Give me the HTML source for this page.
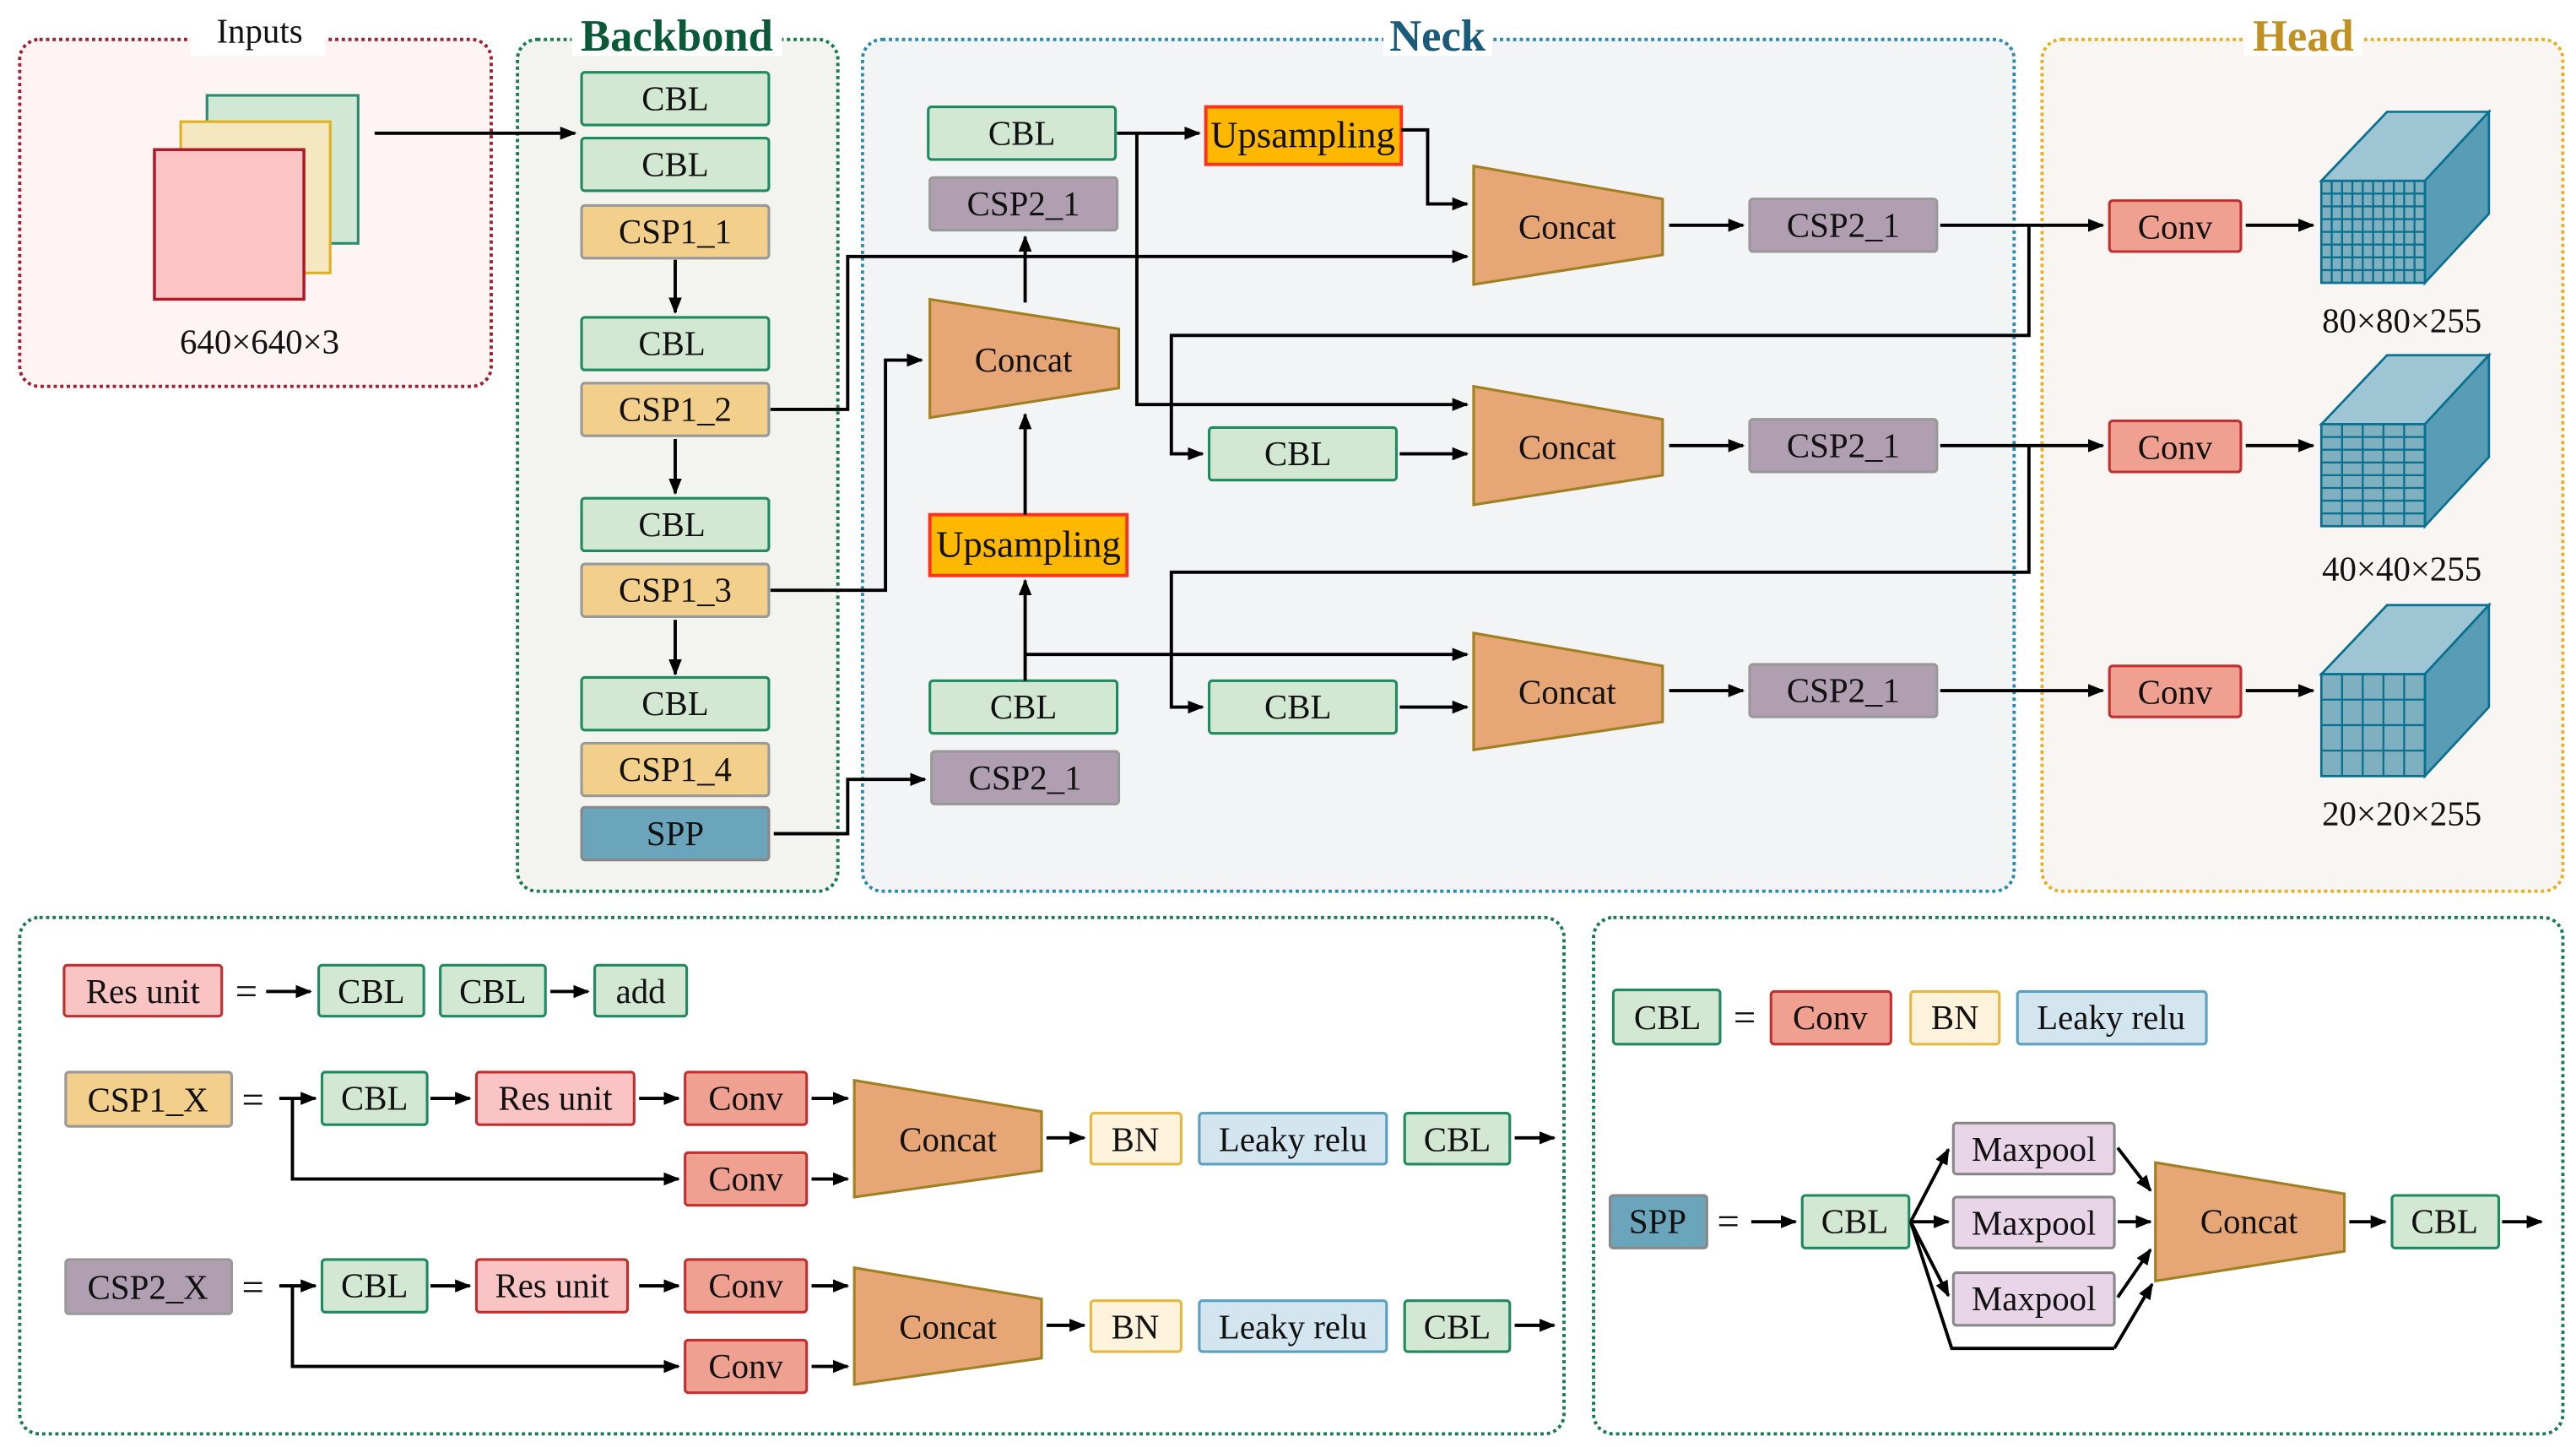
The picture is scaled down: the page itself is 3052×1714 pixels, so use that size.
<!DOCTYPE html>
<html><head><meta charset="utf-8"><style>
html,body{margin:0;padding:0;background:#fff}
svg{display:block;font-family:"Liberation Serif","Times New Roman",serif}
svg text{font-family:"Liberation Serif","Times New Roman",serif;font-size:21px;text-anchor:middle;dominant-baseline:central;fill:#111}
.l{stroke:#000;stroke-width:2;fill:none}
.a{stroke:#000;stroke-width:2;fill:none;marker-end:url(#ar)}
.cbl{fill:#d3e8d3;stroke:#1f8a5e;stroke-width:1.6}
.csp1{fill:#f2cf8a;stroke:#999;stroke-width:1.6}
.csp2{fill:#b09fb0;stroke:#999;stroke-width:1.6}
.spp{fill:#6aa5bb;stroke:#888;stroke-width:1.6}
.conv{fill:#f0a090;stroke:#c03030;stroke-width:1.6}
.up{fill:#ffb800;stroke:#ff3020;stroke-width:2}
.cc{fill:#e6a676;stroke:#a08020;stroke-width:1.6}
.bn{fill:#fdf3dc;stroke:#e6b840;stroke-width:1.6}
.lr{fill:#d3e6f0;stroke:#5aa0c0;stroke-width:1.6}
.mp{fill:#e8d6e8;stroke:#888;stroke-width:1.6}
.ru{fill:#fbc4c4;stroke:#c03030;stroke-width:1.6}
.cf{fill:#7fb0c0;stroke:#0a7090;stroke-width:1.4}
.ct{fill:#9dc5d4;stroke:#0a7090;stroke-width:1.4}
.cs{fill:#589db5;stroke:#0a7090;stroke-width:1.4}
.g{stroke:#0a7090;stroke-width:1.2}
</style></head><body>
<svg width="3052" height="1714" viewBox="0 0 1568 880" preserveAspectRatio="none" xmlns="http://www.w3.org/2000/svg" font-family="Liberation Serif, Times New Roman, serif">
<defs><marker id="ar" markerUnits="userSpaceOnUse" markerWidth="10" markerHeight="10" refX="9" refY="5" orient="auto"><path d="M0,1 L10,5 L0,9 z" fill="#000"/></marker></defs>

<rect x="12" y="24" width="287" height="211" rx="12" fill="#fef4f4" stroke="#a02030" stroke-width="2" stroke-dasharray="2,2"/>
<rect x="116" y="8" width="82" height="26" fill="#fff"/>
<text x="158" y="19">Inputs</text>
<rect x="315" y="24" width="195" height="518" rx="12" fill="#f3f4ef" stroke="#1a7a50" stroke-width="2" stroke-dasharray="2,2"/>
<rect x="348" y="8" width="128" height="26" fill="#fff"/>
<text x="412" y="22" style="font-size:27px;font-weight:bold;fill:#0a5a3a">Backbond</text>
<rect x="525" y="24" width="701" height="518" rx="12" fill="#f2f4f6" stroke="#2a8ab0" stroke-width="2" stroke-dasharray="2,2"/>
<rect x="842" y="8" width="66" height="26" fill="#fff"/>
<text x="875" y="22" style="font-size:27px;font-weight:bold;fill:#1a5a7a">Neck</text>
<rect x="1243" y="24" width="317" height="518" rx="12" fill="#f8f5f2" stroke="#e8b020" stroke-width="2" stroke-dasharray="2,2"/>
<rect x="1366" y="8" width="72" height="26" fill="#fff"/>
<text x="1402" y="22" style="font-size:27px;font-weight:bold;fill:#c09020">Head</text>
<rect x="12" y="558" width="940" height="314" rx="12" fill="#fff" stroke="#1a7a50" stroke-width="2" stroke-dasharray="2,2"/>
<rect x="970" y="558" width="590" height="314" rx="12" fill="#fff" stroke="#1a7a50" stroke-width="2" stroke-dasharray="2,2"/>

<rect x="126" y="58" width="92" height="90" fill="#d0e8d4" stroke="#2a8a70" stroke-width="1.6"/>
<rect x="110" y="74" width="91" height="92" fill="#f5e8c0" stroke="#e0b020" stroke-width="1.6"/>
<rect x="94" y="91" width="91" height="91" fill="#fcc4c4" stroke="#b01828" stroke-width="1.8"/>
<text x="158" y="208">640×640×3</text>
<path class="a" d="M228,81 H350"/>

<rect class="cbl" x="354" y="44" width="114" height="32" rx="2"/><text x="411" y="60">CBL</text>
<rect class="cbl" x="354" y="84" width="114" height="32" rx="2"/><text x="411" y="100">CBL</text>
<rect class="csp1" x="354" y="125" width="114" height="32" rx="2"/><text x="411" y="141">CSP1_1</text>
<rect class="cbl" x="354" y="193" width="114" height="32" rx="2"/><text x="409" y="209">CBL</text>
<rect class="csp1" x="354" y="233" width="114" height="32" rx="2"/><text x="411" y="249">CSP1_2</text>
<rect class="cbl" x="354" y="303" width="114" height="32" rx="2"/><text x="409" y="319">CBL</text>
<rect class="csp1" x="354" y="343" width="114" height="32" rx="2"/><text x="411" y="359">CSP1_3</text>
<rect class="cbl" x="354" y="412" width="114" height="32" rx="2"/><text x="411" y="428">CBL</text>
<rect class="csp1" x="354" y="452" width="114" height="32" rx="2"/><text x="411" y="468">CSP1_4</text>
<rect class="spp" x="354" y="491" width="114" height="32" rx="2"/><text x="411" y="507">SPP</text>
<path class="a" d="M411,158 V190"/><path class="a" d="M411,267 V300"/><path class="a" d="M411,377 V410"/>

<rect class="cbl" x="565" y="65" width="114" height="32" rx="2"/><text x="622" y="81">CBL</text>
<rect class="csp2" x="566" y="108" width="114" height="32" rx="2"/><text x="623" y="124">CSP2_1</text>
<rect class="up" x="734" y="65" width="119" height="35"/><text x="793" y="82" style="font-size:23px">Upsampling</text>
<polygon class="cc" points="566,182 681,200 681,236 566,254"/><text x="623" y="219">Concat</text>
<rect class="up" x="566" y="313" width="120" height="37"/><text x="626" y="331" style="font-size:23px">Upsampling</text>
<rect class="cbl" x="566" y="414" width="114" height="32" rx="2"/><text x="623" y="430">CBL</text>
<rect class="csp2" x="567" y="457" width="114" height="32" rx="2"/><text x="624" y="473">CSP2_1</text>

<polygon class="cc" points="897,101 1012,121 1012,155 897,173"/><text x="954" y="138">Concat</text>
<polygon class="cc" points="897,235 1012,255 1012,289 897,307"/><text x="954" y="272">Concat</text>
<polygon class="cc" points="897,385 1012,405 1012,439 897,456"/><text x="954" y="421">Concat</text>
<rect class="csp2" x="1065" y="121" width="114" height="32" rx="2"/><text x="1122" y="137">CSP2_1</text>
<rect class="csp2" x="1065" y="255" width="114" height="32" rx="2"/><text x="1122" y="271">CSP2_1</text>
<rect class="csp2" x="1065" y="404" width="114" height="32" rx="2"/><text x="1122" y="420">CSP2_1</text>
<rect class="cbl" x="736" y="260" width="114" height="32" rx="2"/><text x="790" y="276">CBL</text>
<rect class="cbl" x="736" y="414" width="114" height="32" rx="2"/><text x="790" y="430">CBL</text>

<path class="a" d="M469,249 H516 V156 H893"/>
<path class="a" d="M469,359 H539 V219 H561"/>
<path class="a" d="M471,507 H516 V474 H563"/>
<path class="a" d="M624,414 V353"/>
<path class="a" d="M624,398 H893"/>
<path class="a" d="M624,313 V252"/>
<path class="a" d="M624,184 V144"/>
<path class="a" d="M680,81 H730"/>
<path class="a" d="M692,81 V246 H893"/>
<path class="a" d="M853,79 H869 V124 H893"/>
<path class="a" d="M1016,137 H1061"/><path class="a" d="M1016,271 H1061"/><path class="a" d="M1016,420 H1061"/>
<path class="a" d="M1181,137 H1280"/>
<path class="a" d="M1235,137 V204 H713 V276 H732"/>
<path class="a" d="M1181,271 H1280"/>
<path class="a" d="M1235,271 V348 H713 V430 H732"/>
<path class="a" d="M852,276 H893"/><path class="a" d="M852,430 H893"/>
<path class="a" d="M1181,420 H1280"/>

<rect class="conv" x="1284" y="122" width="80" height="31" rx="2"/><text x="1324" y="138">Conv</text>
<rect class="conv" x="1284" y="256" width="80" height="31" rx="2"/><text x="1324" y="272">Conv</text>
<rect class="conv" x="1284" y="405" width="80" height="31" rx="2"/><text x="1324" y="421">Conv</text>
<path class="a" d="M1367,137 H1408"/><path class="a" d="M1367,271 H1408"/><path class="a" d="M1367,420 H1408"/>

<polygon class="ct" points="1413,110 1453,68 1515,68 1476,110"/>
<polygon class="cs" points="1476,110 1515,68 1515,130 1476,172"/>
<rect class="cf" x="1413" y="110" width="63" height="62"/>
<path class="g" d="M1419.3,110V172M1425.6,110V172M1431.9,110V172M1438.2,110V172M1444.5,110V172M1450.8,110V172M1457.1,110V172M1463.4,110V172M1469.7,110V172M1413,117.75H1476M1413,125.5H1476M1413,133.25H1476M1413,141H1476M1413,148.75H1476M1413,156.5H1476M1413,164.25H1476"/>
<text x="1462" y="195">80×80×255</text>
<polygon class="ct" points="1413,258 1453,216 1515,216 1476,258"/>
<polygon class="cs" points="1476,258 1515,216 1515,278 1476,320"/>
<rect class="cf" x="1413" y="258" width="63" height="62"/>
<path class="g" d="M1425.6,258V320M1438.2,258V320M1450.8,258V320M1463.4,258V320M1413,265.75H1476M1413,273.5H1476M1413,281.25H1476M1413,289H1476M1413,296.75H1476M1413,304.5H1476M1413,312.25H1476"/>
<text x="1462" y="346">40×40×255</text>
<polygon class="ct" points="1413,410 1453,368 1515,368 1476,410"/>
<polygon class="cs" points="1476,410 1515,368 1515,430 1476,472"/>
<rect class="cf" x="1413" y="410" width="63" height="62"/>
<path class="g" d="M1425.6,410V472M1438.2,410V472M1450.8,410V472M1463.4,410V472M1413,425.5H1476M1413,441H1476M1413,456.5H1476"/>
<text x="1462" y="495">20×20×255</text>

<rect class="ru" x="39" y="587" width="96" height="31" rx="2"/><text x="87" y="603">Res unit</text>
<text x="150" y="603" style="font-size:24px">=</text>
<path class="a" d="M162,603 H189"/>
<rect class="cbl" x="194" y="587" width="64" height="31" rx="2"/><text x="226" y="603">CBL</text>
<rect class="cbl" x="268" y="587" width="64" height="31" rx="2"/><text x="300" y="603">CBL</text>
<path class="a" d="M335,603 H358"/>
<rect class="cbl" x="362" y="587" width="56" height="31" rx="2"/><text x="390" y="603">add</text>

<rect class="csp1" x="40" y="652" width="101" height="33" rx="2"/><text x="90" y="669">CSP1_X</text>
<text x="154" y="669" style="font-size:24px">=</text>
<path class="a" d="M170,668 H192"/><path class="a" d="M178,668 V717 H413"/>
<rect class="cbl" x="196" y="652" width="64" height="32" rx="2"/><text x="228" y="668">CBL</text>
<path class="a" d="M262,668 H286"/>
<rect class="ru" x="290" y="652" width="96" height="32" rx="2"/><text x="338" y="668">Res unit</text>
<path class="a" d="M389,668 H413"/>
<rect class="conv" x="417" y="652" width="74" height="32" rx="2"/><text x="454" y="668">Conv</text>
<rect class="conv" x="417" y="701" width="74" height="32" rx="2"/><text x="454" y="717">Conv</text>
<path class="a" d="M494,668 H516"/><path class="a" d="M494,717 H516"/>
<polygon class="cc" points="520,657 634,676 634,712 520,728"/><text x="577" y="693">Concat</text>
<path class="a" d="M637,692 H660"/>
<rect class="bn" x="664" y="677" width="55" height="31" rx="2"/><text x="691" y="693">BN</text>
<rect class="lr" x="730" y="677" width="114" height="31" rx="2"/><text x="787" y="693">Leaky relu</text>
<rect class="cbl" x="855" y="677" width="64" height="31" rx="2"/><text x="887" y="693">CBL</text>
<path class="a" d="M922,692 H946"/>

<rect class="csp2" x="40" y="766" width="101" height="33" rx="2"/><text x="90" y="783">CSP2_X</text>
<text x="154" y="783" style="font-size:24px">=</text>
<path class="a" d="M170,782 H192"/><path class="a" d="M178,782 V831 H413"/>
<rect class="cbl" x="196" y="766" width="64" height="32" rx="2"/><text x="228" y="782">CBL</text>
<path class="a" d="M262,782 H286"/>
<rect class="ru" x="290" y="766" width="92" height="32" rx="2"/><text x="336" y="782">Res unit</text>
<path class="a" d="M389,782 H413"/>
<rect class="conv" x="417" y="766" width="74" height="32" rx="2"/><text x="454" y="782">Conv</text>
<rect class="conv" x="417" y="815" width="74" height="32" rx="2"/><text x="454" y="831">Conv</text>
<path class="a" d="M494,782 H516"/><path class="a" d="M494,831 H516"/>
<polygon class="cc" points="520,771 634,790 634,826 520,842"/><text x="577" y="807">Concat</text>
<path class="a" d="M637,806 H660"/>
<rect class="bn" x="664" y="791" width="55" height="31" rx="2"/><text x="691" y="807">BN</text>
<rect class="lr" x="730" y="791" width="114" height="31" rx="2"/><text x="787" y="807">Leaky relu</text>
<rect class="cbl" x="855" y="791" width="64" height="31" rx="2"/><text x="887" y="807">CBL</text>
<path class="a" d="M922,806 H946"/>

<rect class="cbl" x="982" y="602" width="65" height="33" rx="2"/><text x="1015" y="619">CBL</text>
<text x="1062" y="619" style="font-size:24px">=</text>
<rect class="conv" x="1078" y="603" width="73" height="32" rx="2"/><text x="1114" y="619">Conv</text>
<rect class="bn" x="1163" y="603" width="54" height="32" rx="2"/><text x="1190" y="619">BN</text>
<rect class="lr" x="1228" y="603" width="115" height="32" rx="2"/><text x="1285" y="619">Leaky relu</text>

<rect class="spp" x="980" y="727" width="59" height="32" rx="2"/><text x="1009" y="743">SPP</text>
<text x="1052" y="743" style="font-size:24px">=</text>
<path class="a" d="M1066,743 H1093"/>
<rect class="cbl" x="1097" y="727" width="65" height="32" rx="2"/><text x="1129" y="743">CBL</text>
<path class="a" d="M1163,743 L1186,699"/>
<path class="a" d="M1163,743 H1186"/>
<path class="a" d="M1163,743 L1186,788"/>
<path class="l" d="M1163,743 L1188,820 H1287"/>
<rect class="mp" x="1189" y="683" width="98" height="31" rx="2"/><text x="1238" y="699">Maxpool</text>
<rect class="mp" x="1189" y="728" width="98" height="31" rx="2"/><text x="1238" y="744">Maxpool</text>
<rect class="mp" x="1189" y="774" width="98" height="32" rx="2"/><text x="1238" y="790">Maxpool</text>
<path class="a" d="M1289,698 L1309,724"/>
<path class="a" d="M1289,743 H1309"/>
<path class="a" d="M1289,789 L1309,760"/>
<path class="a" d="M1287,820 L1310,781"/>
<polygon class="cc" points="1312,707 1427,726 1427,761 1312,779"/><text x="1369" y="743">Concat</text>
<path class="a" d="M1430,743 H1452"/>
<rect class="cbl" x="1456" y="727" width="65" height="32" rx="2"/><text x="1488" y="743">CBL</text>
<path class="a" d="M1523,743 H1547"/>
</svg>
</body></html>
